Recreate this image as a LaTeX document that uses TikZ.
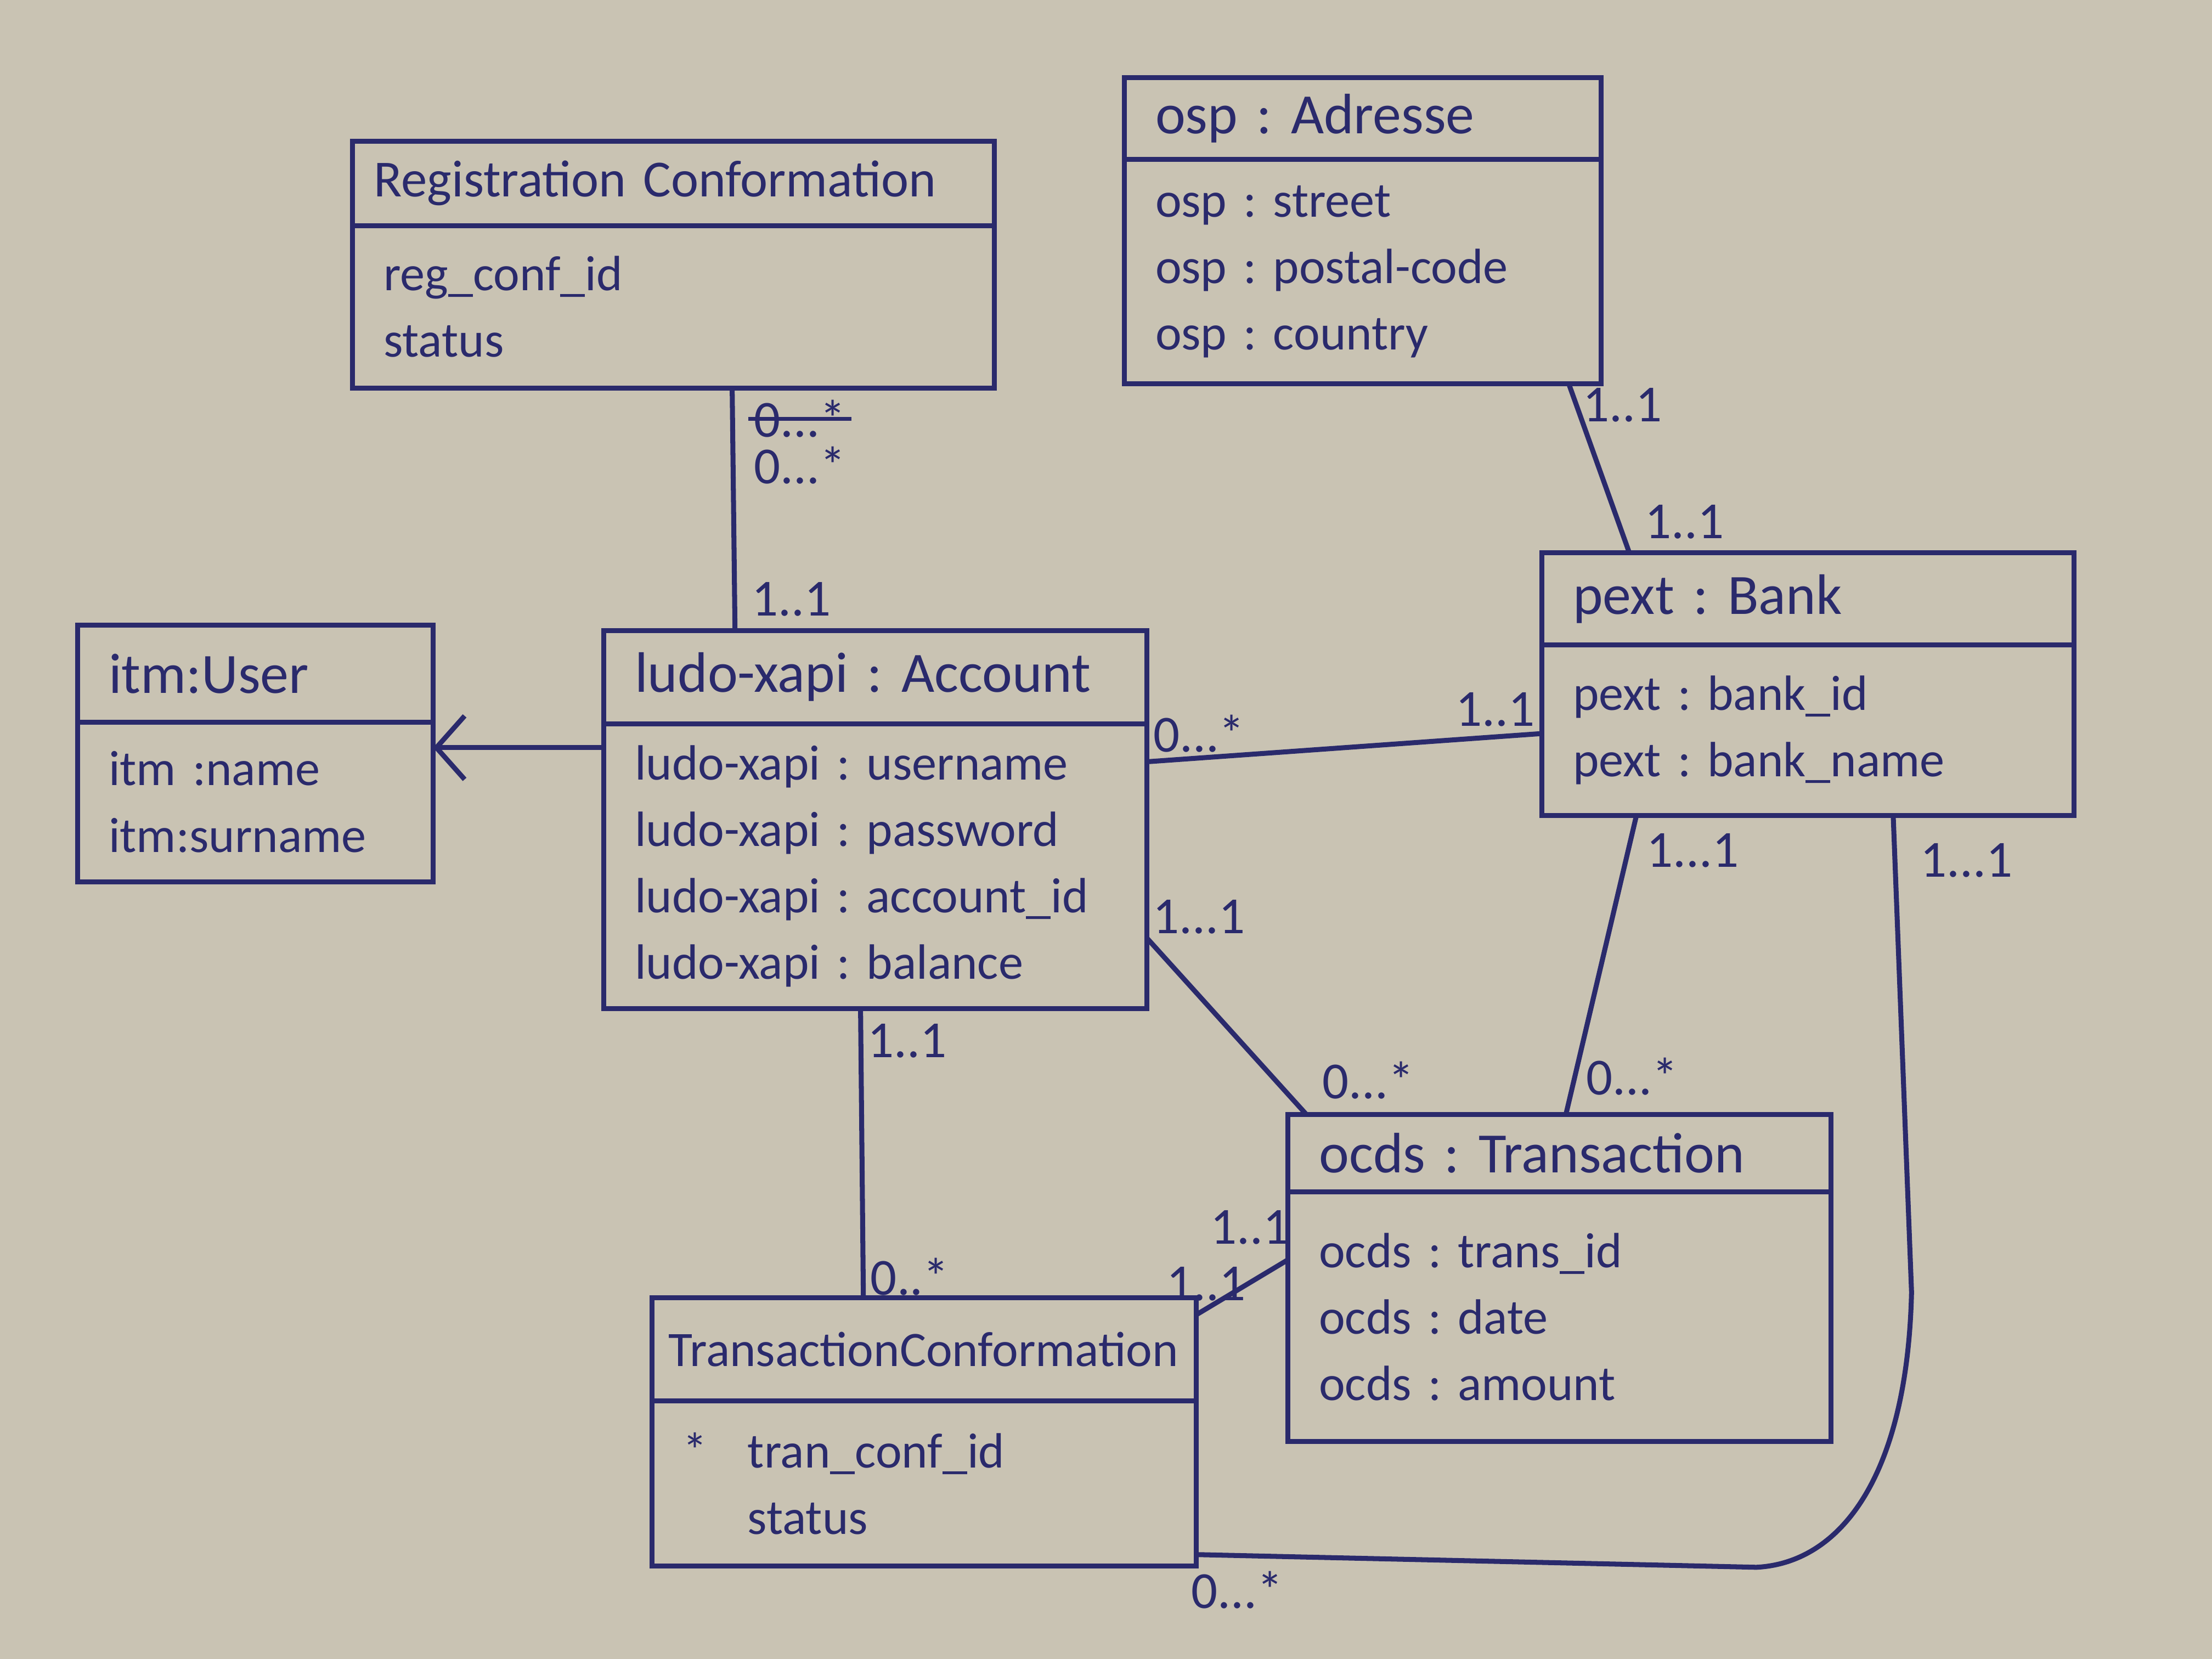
\documentclass[tikz,border=0pt]{standalone}
\usepackage{fontspec}
\setmainfont{Carlito}
\usetikzlibrary{positioning,arrows.meta}

\definecolor{ink}{RGB}{42,42,108}
\definecolor{paper}{RGB}{201,195,179}
\newcommand{\headfont}{\fontsize{11.5}{13}\selectfont}
\newcommand{\attrfont}{\fontsize{10}{13.4}\selectfont}
\newcommand{\multfont}{\fontsize{10.5}{12}\selectfont}
\frenchspacing

\begin{document}
\begin{tikzpicture}[
    cls/.style={draw=ink, text=ink, line width=1pt, inner xsep=0.22cm, inner ysep=0pt, outer sep=0pt, align=left, anchor=north},
    head/.style={cls, font=\headfont},
    attrs/.style={cls, font=\attrfont},
    mult/.style={text=ink, font=\multfont, inner sep=1pt},
    link/.style={draw=ink, line width=1pt}
  ]
  \useasboundingbox (0,0) rectangle (15.68,11.76);
  \fill[paper] (0,0) rectangle (15.68,11.76);

  % classes
  \node[head, font=\fontsize{10.5}{13}\selectfont, text width=4.25cm, inner xsep=0.15cm, minimum height=0.6cm] (reg) at (4.775,10.76) {Registration Conformation};
  \node[attrs, text width=4.11cm, minimum height=1.15cm, below=0pt of reg] (reg-b) {reg\_conf\_id\\status};

  \node[head, text width=2.94cm, minimum height=0.58cm] (adr) at (9.66,11.21) {osp : Adresse};
  \node[attrs, text width=2.94cm, minimum height=1.59cm, below=0pt of adr] (adr-b) {osp : street\\osp : postal-code\\osp : country};

  \node[head, text width=2.08cm, minimum height=0.69cm] (user) at (1.81,7.33) {itm:User};
  \node[attrs, text width=2.08cm, minimum height=1.13cm, below=0pt of user] (user-b) {itm :name\\itm:surname};

  \node[head, text width=3.41cm, minimum height=0.66cm] (acc) at (6.205,7.29) {ludo-xapi : Account};
  \node[attrs, text width=3.41cm, minimum height=2.02cm, below=0pt of acc] (acc-b) {ludo-xapi : username\\ludo-xapi : password\\ludo-xapi : account\_id\\ludo-xapi : balance};

  \node[head, text width=3.33cm, minimum height=0.65cm] (bank) at (12.815,7.84) {pext : Bank};
  \node[attrs, text width=3.33cm, minimum height=1.21cm, below=0pt of bank] (bank-b) {pext : bank\_id\\pext : bank\_name};

  \node[head, text width=3.41cm, minimum height=0.55cm] (trans) at (11.055,3.86) {ocds : Transaction};
  \node[attrs, text width=3.41cm, minimum height=1.77cm, below=0pt of trans] (trans-b) {ocds : trans\_id\\ocds : date\\ocds : amount};

  \node[head, font=\fontsize{10}{13}\selectfont, text width=3.62cm, inner xsep=0.12cm, minimum height=0.73cm] (tconf) at (6.55,2.56) {TransactionConformation};
  \node[attrs, text width=3.42cm, minimum height=1.17cm, below=0pt of tconf] (tconf-b) {\makebox[0.46cm][l]{*}tran\_conf\_id\\\hspace*{0.46cm}status};

  % associations
  \draw[link] (reg-b.south -| 5.19,0) -- (acc.north -| 5.21,0);
  \draw[link,-{Straight Barb[length=2mm,width=4.5mm]}] (acc-b.west |- 0,6.46) -- (user-b.east |- 0,6.46);
  \draw[link] (acc-b.east |- 0,6.36) -- (bank-b.west |- 0,6.56);
  \draw[link] (adr-b.south -| 11.12,0) -- (bank.north -| 11.55,0);
  \draw[link] (acc-b.east |- 0,5.11) -- (trans.north -| 9.26,0);
  \draw[link] (bank-b.south -| 11.6,0) -- (trans.north -| 11.1,0);
  \draw[link] (acc-b.south -| 6.1,0) -- (tconf.north -| 6.12,0);
  \draw[link] (tconf.east |- 0,2.44) -- (trans-b.west |- 0,2.83);
  \coordinate (bend-top) at (13.55,2.6);
  \coordinate (bend-end) at (12.45,0.65);
  \draw[link] (bank-b.south -| 13.42,0) -- (bend-top) .. controls (13.52,1.3) and (13.05,0.68) .. (bend-end) -- (tconf-b.east |- 0,0.74);

  % multiplicities
  \node[mult] (m-reg-old) at (5.67,8.79) {0...*};
  \draw[ink, line width=0.8pt] (m-reg-old.west) -- (m-reg-old.east);
  \node[mult] (m-reg) at (5.67,8.46) {0...*};
  \node[mult] (m-acc-reg) at (5.61,7.51) {1..1};
  \node[mult] (m-acc-bank) at (8.5,6.56) {0...*};
  \node[mult] (m-bank-acc) at (10.6,6.73) {1..1};
  \node[mult] (m-adr) at (11.5,8.89) {1..1};
  \node[mult] (m-bank-adr) at (11.94,8.06) {1..1};
  \node[mult] (m-acc-trans) at (8.5,5.26) {1...1};
  \node[mult] (m-trans-acc) at (9.7,4.1) {0...*};
  \node[mult] (m-bank-trans) at (12.0,5.73) {1...1};
  \node[mult] (m-trans-bank) at (11.57,4.13) {0...*};
  \node[mult] (m-bank-tconf) at (13.94,5.66) {1...1};
  \node[mult] (m-tconf-bank) at (8.77,0.49) {0...*};
  \node[mult] (m-acc-tconf) at (6.43,4.38) {1..1};
  \node[mult] (m-tconf-acc) at (6.45,2.71) {0..*};
  \node[mult] (m-trans-tconf) at (8.86,3.06) {1..1};
  \node[mult] (m-tconf-trans) at (8.55,2.66) {1..1};
\end{tikzpicture}
\end{document}
